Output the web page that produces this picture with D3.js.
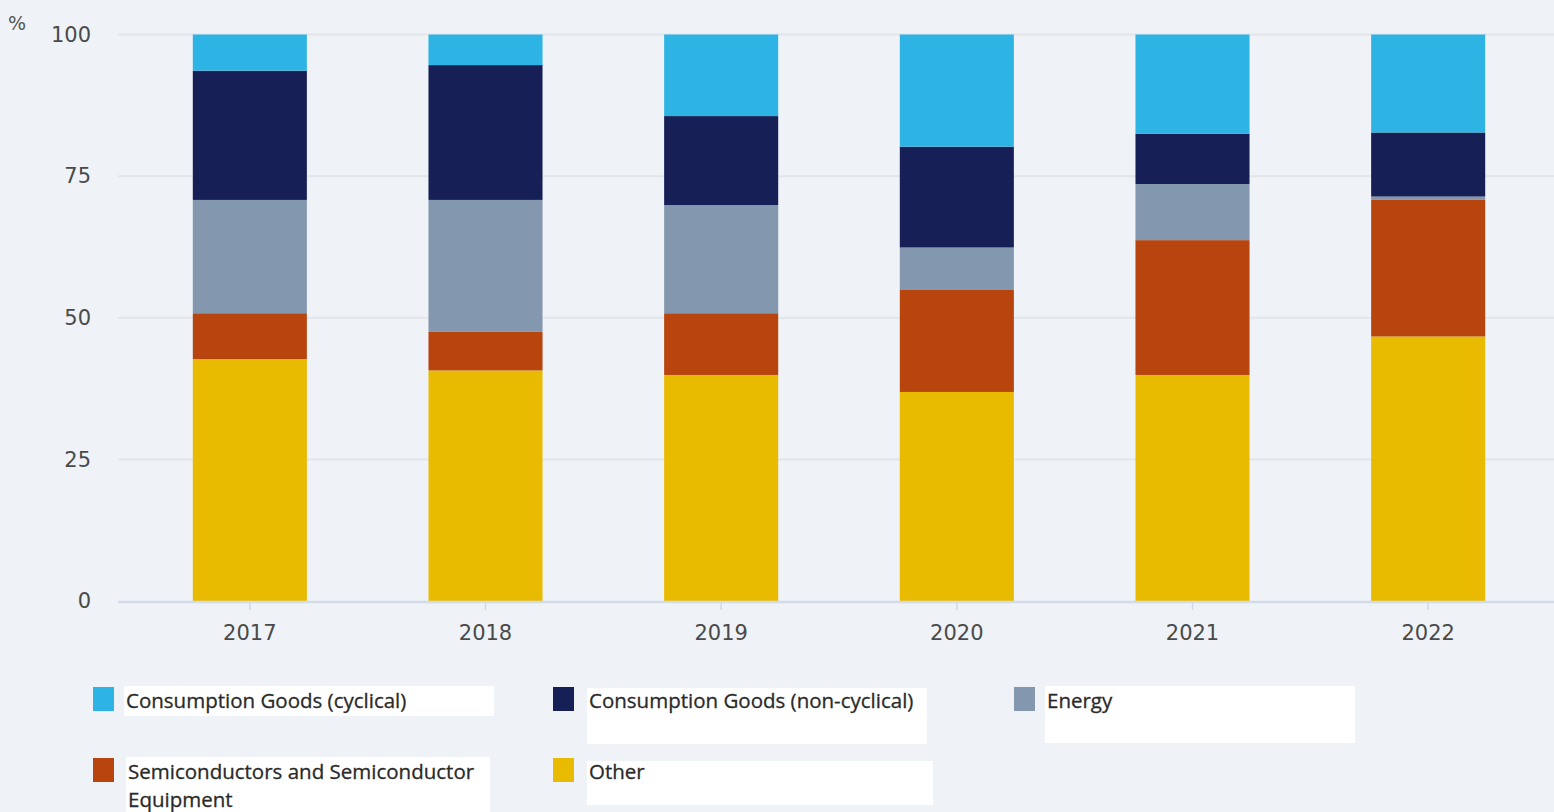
<!DOCTYPE html>
<html>
<head>
<meta charset="utf-8">
<script src="https://cdn.jsdelivr.net/npm/d3@7"></script>
<style>
  html, body { margin: 0; padding: 0; background: #eff3f8; }
  svg { display: block; }
</style>
</head>
<body>
<svg id="chart"></svg>
<script>
// --------------- Data ---------------
const YEARS = ["2017", "2018", "2019", "2020", "2021", "2022"];
const SERIES = [
  "Other",
  "Semiconductors and Semiconductor Equipment",
  "Energy",
  "Consumption Goods (non-cyclical)",
  "Consumption Goods (cyclical)"
];
// shares in %, one value per year
const OTHER = [42.7, 40.7, 39.9, 36.9, 39.9, 46.7];
const SEMI = [8.1, 6.8, 10.9, 18.0, 23.8, 24.1];
const ENERGY = [20.0, 23.3, 19.1, 7.5, 9.9, 0.6];
const NON_CYCLICAL = [22.8, 23.8, 15.7, 17.8, 8.9, 11.3];
const CYCLICAL = [6.4, 5.4, 14.4, 19.8, 17.5, 17.3];
const Y_TICKS = [0, 25, 50, 75, 100];

// --------------- Constants ---------------
const WIDTH = 1554;
const HEIGHT = 812;
const COLORS = ["#e9bb00", "#b8450e", "#8398ae", "#162056", "#2eb4e4"];

const table = YEARS.map((year, i) => ({
  year,
  [SERIES[0]]: OTHER[i],
  [SERIES[1]]: SEMI[i],
  [SERIES[2]]: ENERGY[i],
  [SERIES[3]]: NON_CYCLICAL[i],
  [SERIES[4]]: CYCLICAL[i]
}));

const svg = d3.select("#chart").attr("width", WIDTH).attr("height", HEIGHT);

const x = d3
  .scaleBand()
  .domain(YEARS)
  .range([132, 1546])
  .paddingInner(0.516)
  .paddingOuter(0.258);

const y = d3.scaleLinear().domain([0, 100]).range([601, 34.5]);

const color = d3.scaleOrdinal().domain(SERIES).range(COLORS);

// --------------- Grid ---------------
svg
  .append("g")
  .selectAll("line")
  .data(Y_TICKS.filter((t) => t > 0))
  .join("line")
  .attr("x1", 118)
  .attr("x2", WIDTH)
  .attr("y1", (d) => y(d))
  .attr("y2", (d) => y(d))
  .attr("stroke", "#e2e5ea")
  .attr("stroke-width", 2);

// --------------- Bars ---------------
const stacked = d3.stack().keys(SERIES)(table);

svg
  .append("g")
  .selectAll("g")
  .data(stacked)
  .join("g")
  .attr("fill", (d) => color(d.key))
  .selectAll("rect")
  .data((d) => d)
  .join("rect")
  .attr("x", (d) => x(d.data.year))
  .attr("width", x.bandwidth())
  .attr("y", (d) => y(d[1]))
  .attr("height", (d) => y(d[0]) - y(d[1]));

// --------------- Axes ---------------
const xAxis = svg
  .append("g")
  .attr("transform", `translate(0,${y(0)})`)
  .call(d3.axisBottom(x).tickSize(9).tickPadding(15));
xAxis.select(".domain").remove();
xAxis.selectAll(".tick line").attr("stroke", "#cfd8e6").attr("stroke-width", 1.5);
xAxis
  .selectAll(".tick text")
  .attr("fill", "#4a4a4a")
  .attr("font-family", "DejaVu Sans")
  .attr("font-size", 21);

svg
  .append("line")
  .attr("x1", 118)
  .attr("x2", WIDTH)
  .attr("y1", y(0) + 1)
  .attr("y2", y(0) + 1)
  .attr("stroke", "#d3dbe8")
  .attr("stroke-width", 2.5);

const yAxis = svg
  .append("g")
  .attr("transform", "translate(91,0)")
  .call(d3.axisLeft(y).tickValues(Y_TICKS).tickSize(0).tickPadding(0));
yAxis.select(".domain").remove();
yAxis
  .selectAll(".tick text")
  .attr("fill", "#4a4a4a")
  .attr("font-family", "DejaVu Sans")
  .attr("font-size", 21);

svg
  .append("text")
  .text("%")
  .attr("x", 8)
  .attr("y", 30)
  .attr("fill", "#555")
  .attr("font-family", "DejaVu Sans")
  .attr("font-size", 19);

// --------------- Legend ---------------
const legendOrder = [SERIES[4], SERIES[3], SERIES[2], SERIES[1], SERIES[0]];
const legendLayout = [
  { sx: 93, sy: 687, bx: 124, by: 686, bw: 370, bh: 30, lines: ["Consumption Goods (cyclical)"] },
  { sx: 553, sy: 687, bx: 587, by: 688, bw: 340, bh: 56, lines: ["Consumption Goods (non-cyclical)"] },
  { sx: 1014, sy: 687, bx: 1045, by: 686, bw: 310, bh: 57, lines: ["Energy"] },
  { sx: 93, sy: 758, bx: 126, by: 757, bw: 364, bh: 55, lines: ["Semiconductors and Semiconductor", "Equipment"] },
  { sx: 553, sy: 758, bx: 587, by: 761, bw: 346, bh: 44, lines: ["Other"] }
];

const legend = svg
  .append("g")
  .selectAll("g")
  .data(legendOrder)
  .join("g");

legend
  .append("rect")
  .attr("x", (d, i) => legendLayout[i].bx)
  .attr("y", (d, i) => legendLayout[i].by)
  .attr("width", (d, i) => legendLayout[i].bw)
  .attr("height", (d, i) => legendLayout[i].bh)
  .attr("fill", "#ffffff");

legend
  .append("rect")
  .attr("x", (d, i) => legendLayout[i].sx)
  .attr("y", (d, i) => legendLayout[i].sy)
  .attr("width", 21)
  .attr("height", 24)
  .attr("fill", (d) => color(d));

legend
  .append("text")
  .attr("x", (d, i) => legendLayout[i].bx + 2)
  .attr("y", (d, i) => legendLayout[i].sy + 21)
  .attr("fill", "#2a2a2a")
  .attr("stroke", "#2a2a2a")
  .attr("stroke-width", 0.3)
  .attr("font-family", "Open Sans")
  .attr("font-size", 20.5)
  .selectAll("tspan")
  .data((d, i) => legendLayout[i].lines)
  .join("tspan")
  .attr("x", function () {
    return d3.select(this.parentNode).attr("x");
  })
  .attr("dy", (d, i) => (i === 0 ? 0 : 28))
  .text((d) => d);
</script>
</body>
</html>
